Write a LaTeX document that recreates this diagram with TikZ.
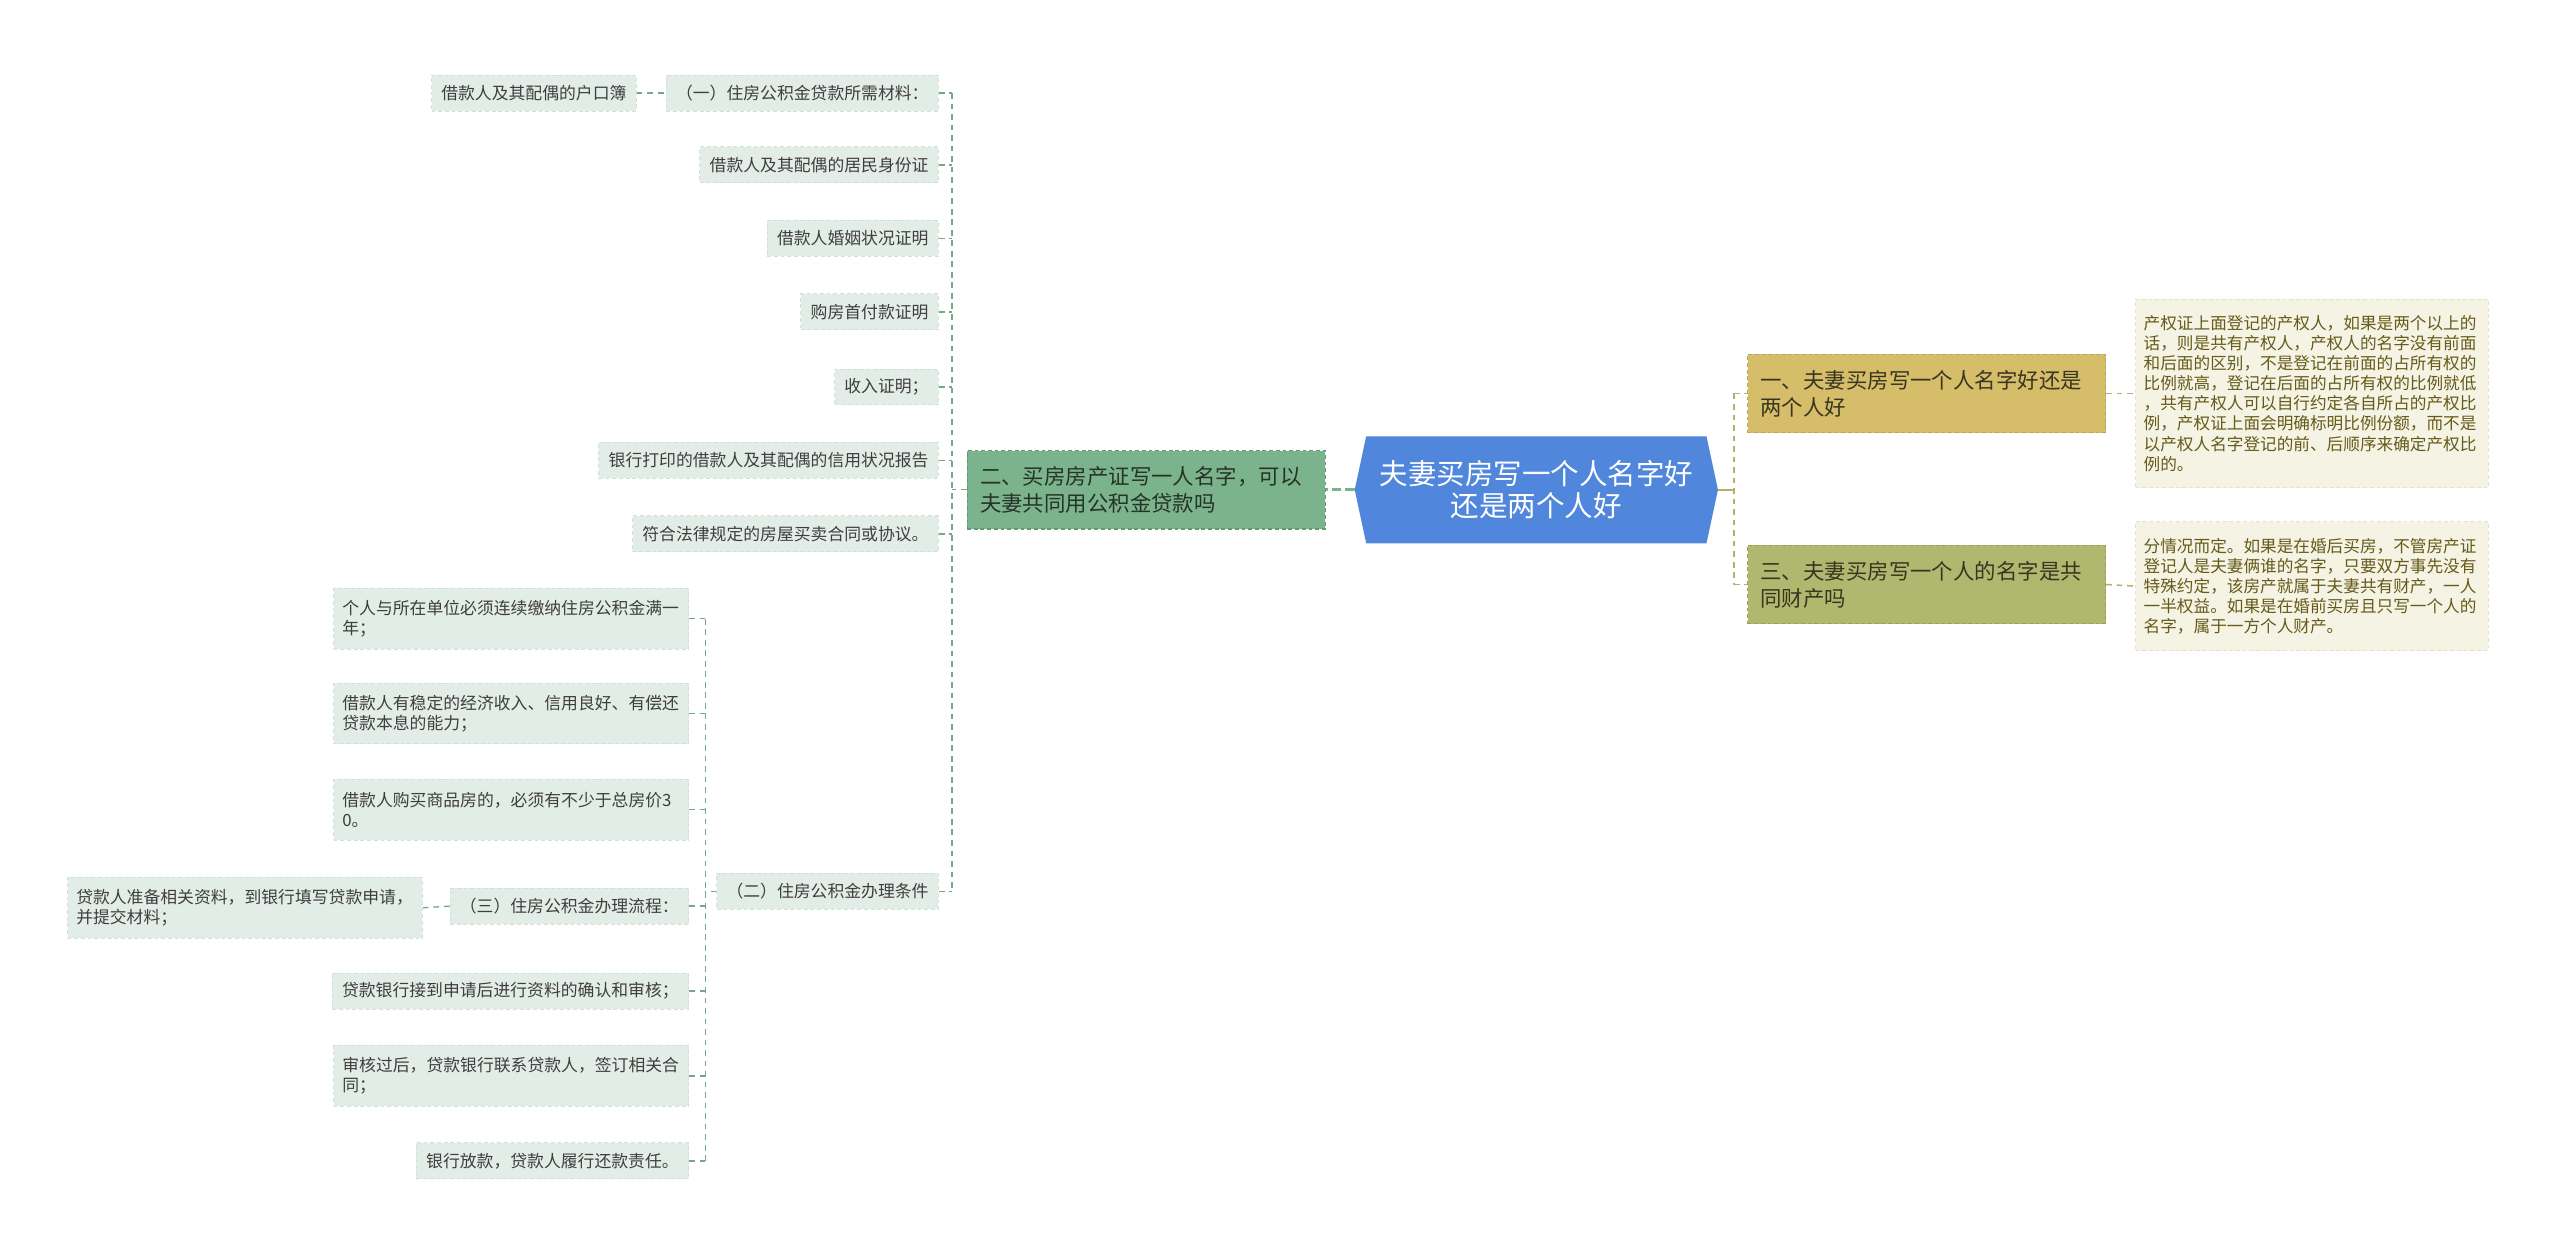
\documentclass[tikz,border=0pt]{standalone}
\usepackage{fontspec}
\newfontfamily\cjk{Noto Sans CJK SC}
\usetikzlibrary{backgrounds}
\definecolor{leafbg}{HTML}{E3EDE7}
\definecolor{leafline}{HTML}{D2E0D7}
\definecolor{leaftxt}{HTML}{3E3E3E}
\definecolor{linkgreen}{HTML}{74A886}
\definecolor{midgreen}{HTML}{7BB38C}
\definecolor{midgreenline}{HTML}{5F9A70}
\definecolor{midtxt}{HTML}{263328}
\definecolor{rootbg}{HTML}{5086DC}
\definecolor{goldbg}{HTML}{D5BD6A}
\definecolor{goldline}{HTML}{BFA553}
\definecolor{olivebg}{HTML}{AFB86E}
\definecolor{oliveline}{HTML}{98A257}
\definecolor{olivetxt}{HTML}{3A3520}
\definecolor{olivelink}{HTML}{B8B06A}
\definecolor{notebg}{HTML}{F5F3E4}
\definecolor{noteline}{HTML}{E6E2CA}
\definecolor{notetxt}{HTML}{665A1A}

\begin{document}
\begin{tikzpicture}[x=0.3mm,y=-0.3mm,
  leaf/.style={font=\cjk\fontsize{8.8}{10.5}\selectfont,fill=leafbg,draw=leafline,
    line width=0.5pt,dash pattern=on 2pt off 1.5pt,text=leaftxt,
    inner xsep=1.8mm,inner ysep=0pt,minimum height=6.6mm,align=left},
  leaftwo/.style={leaf,text width=62mm,inner xsep=1.6mm,minimum height=11.2mm},
  mid/.style={font=\cjk\fontsize{11.2}{14}\selectfont,line width=0.6pt,
    dash pattern=on 2pt off 1.5pt,text width=61mm,inner xsep=2.4mm,
    minimum height=14.4mm,align=left},
  note/.style={font=\cjk\fontsize{8.7}{10.5}\selectfont,fill=notebg,draw=noteline,
    line width=0.5pt,dash pattern=on 2pt off 1.5pt,text=notetxt,
    text width=61.8mm,inner xsep=1.5mm,inner ysep=3mm,align=left},
  root/.style={font=\cjk\fontsize{14.9}{17}\selectfont,text=white,align=center,
    minimum width=66.6mm,minimum height=19.5mm},
  lk/.style={draw=linkgreen,line width=0.7pt,dash pattern=on 3pt off 2.5pt},
  olk/.style={draw=olivelink,line width=0.8pt,dash pattern=on 3pt off 2.5pt}]
\useasboundingbox (0,0) rectangle (1568,767);
% ---------- centre ----------
\node[root] (root) at (941,300) {夫妻买房写一个人名字好\\还是两个人好};
\begin{scope}[on background layer]
  \fill[rootbg] ([xshift=2.1mm]root.north west) -- ([xshift=-2.1mm]root.north east)
    -- (root.east) -- ([xshift=-2.1mm]root.south east)
    -- ([xshift=2.1mm]root.south west) -- (root.west) -- cycle;
\end{scope}
% ---------- right branches ----------
\node[mid,fill=goldbg,draw=goldline,text=olivetxt] (b1) at (1180,241)
  {一、夫妻买房写一个人名字好还是\\两个人好};
\node[mid,fill=olivebg,draw=oliveline,text=olivetxt] (b3) at (1180,358)
  {三、夫妻买房写一个人的名字是共\\同财产吗};
\node[note] (t1) at (1416,241)
  {产权证上面登记的产权人，如果是两个以上的\\
   话，则是共有产权人，产权人的名字没有前面\\
   和后面的区别，不是登记在前面的占所有权的\\
   比例就高，登记在后面的占所有权的比例就低\\
   ，共有产权人可以自行约定各自所占的产权比\\
   例，产权证上面会明确标明比例份额，而不是\\
   以产权人名字登记的前、后顺序来确定产权比\\
   例的。};
\node[note] (t3) at (1416,359)
  {分情况而定。如果是在婚后买房，不管房产证\\
   登记人是夫妻俩谁的名字，只要双方事先没有\\
   特殊约定，该房产就属于夫妻共有财产，一人\\
   一半权益。如果是在婚前买房且只写一个人的\\
   名字，属于一方个人财产。};
% ---------- left branch ----------
\node[mid,fill=midgreen,draw=midgreenline,text=midtxt] (b2) at (702,300)
  {二、买房房产证写一人名字，可以\\夫妻共同用公积金贷款吗};
\node[leaf,anchor=east] (s1) at (575,57) {（一）住房公积金贷款所需材料：};
\node[leaf,anchor=east] (s1a) at (390,57) {借款人及其配偶的户口簿};
\node[leaf,anchor=east] (s1b) at (575,101) {借款人及其配偶的居民身份证};
\node[leaf,anchor=east] (s1c) at (575,146) {借款人婚姻状况证明};
\node[leaf,anchor=east] (s1d) at (575,191) {购房首付款证明};
\node[leaf,anchor=east] (s1e) at (575,237) {收入证明；};
\node[leaf,anchor=east] (s1f) at (575,282) {银行打印的借款人及其配偶的信用状况报告};
\node[leaf,anchor=east] (s1g) at (575,327) {符合法律规定的房屋买卖合同或协议。};
\node[leaf,anchor=east] (s2) at (575,546) {（二）住房公积金办理条件};
\node[leaftwo,anchor=east] (s2a) at (422,379) {个人与所在单位必须连续缴纳住房公积金满一\\年；};
\node[leaftwo,anchor=east] (s2b) at (422,437) {借款人有稳定的经济收入、信用良好、有偿还\\贷款本息的能力；};
\node[leaftwo,anchor=east] (s2c) at (422,496) {借款人购买商品房的，必须有不少于总房价3\\0。};
\node[leaf,anchor=east] (s3) at (422,555) {（三）住房公积金办理流程：};
\node[leaftwo,anchor=east] (s3a) at (259,556) {贷款人准备相关资料，到银行填写贷款申请，\\并提交材料；};
\node[leaf,anchor=east] (s2d) at (422,607) {贷款银行接到申请后进行资料的确认和审核；};
\node[leaftwo,anchor=east] (s2e) at (422,659) {审核过后，贷款银行联系贷款人，签订相关合\\同；};
\node[leaf,anchor=east] (s2f) at (422,711) {银行放款，贷款人履行还款责任。};
% ---------- connectors ----------
\coordinate (j1) at (583,300);
\coordinate (j2) at (432,546);
\coordinate (j3) at (1062,300);
\draw[draw=midgreen,line width=1.4pt,dash pattern=on 5pt off 2pt] (root.west) -- (b2.east);
\draw[lk] (b2.west) -- (j1);
\draw[lk] (j1 |- s1.east) -- (j1 |- s2.east);
\foreach \n in {s1,s1b,s1c,s1d,s1e,s1f,s1g,s2}
  \draw[lk] (\n.east) -- (\n.east -| j1);
\draw[lk] (s1a.east) -- (s1.west);
\draw[lk] (s2.west) -- (j2);
\draw[lk] (j2 |- s2a.east) -- (j2 |- s2f.east);
\foreach \n in {s2a,s2b,s2c,s3,s2d,s2e,s2f}
  \draw[lk] (\n.east) -- (\n.east -| j2);
\draw[lk] (s3a.east) -- (s3.west);
\draw[draw=olivelink,line width=1.2pt] (root.east) -- (j3);
\draw[olk] (j3 |- b1.west) -- (j3 |- b3.west);
\draw[olk] (b1.west -| j3) -- (b1.west);
\draw[olk] (b3.west -| j3) -- (b3.west);
\draw[olk] (b1.east) -- (t1.west);
\draw[olk] (b3.east) -- (t3.west);
\end{tikzpicture}
\end{document}
